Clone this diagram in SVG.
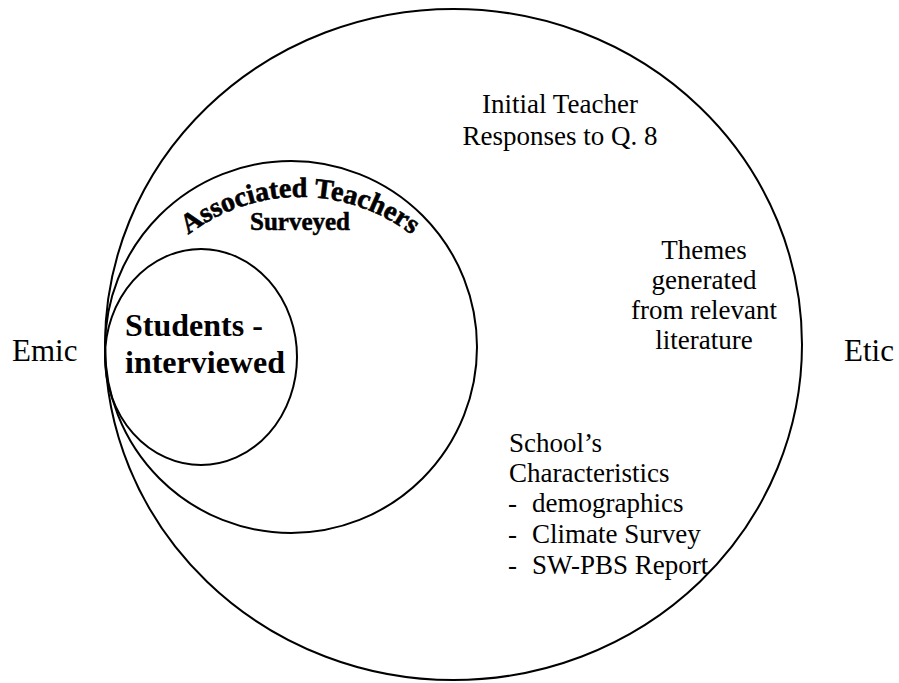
<svg xmlns="http://www.w3.org/2000/svg" width="899" height="683" viewBox="0 0 899 683">
<defs>
<style>
.ring{fill:none;stroke:#000;stroke-width:2}
.t{font-family:"Liberation Serif","Times New Roman",serif;fill:#000}
.n{font-size:27px}
.big{font-size:31px}
.stu{font-size:32px;font-weight:bold}
.arc{font-size:28px;font-weight:bold;stroke:#000;stroke-width:0.6}
</style>
<path id="arcPath" d="M 116 381 A 184 184 0 0 1 484 381"/>
</defs>
<rect width="899" height="683" fill="#fff"/>
<g id="etic-outer">
<ellipse class="ring" cx="453.5" cy="344.5" rx="348.5" ry="335.5"/>
<text class="t n" text-anchor="middle"><tspan x="560" y="113">Initial Teacher</tspan><tspan x="560" y="145">Responses to Q. 8</tspan></text>
<text class="t n" text-anchor="middle"><tspan x="704" y="259">Themes</tspan><tspan x="704" y="289">generated</tspan><tspan x="704" y="319">from relevant</tspan><tspan x="704" y="349">literature</tspan></text>
<text class="t n"><tspan x="509" y="452">School’s</tspan><tspan x="509" y="482">Characteristics</tspan></text>
<text class="t n"><tspan x="508" y="512">-</tspan><tspan x="532" y="512">demographics</tspan><tspan x="508" y="543">-</tspan><tspan x="532" y="543">Climate Survey</tspan><tspan x="508" y="574">-</tspan><tspan x="532" y="574">SW-PBS Report</tspan></text>
</g>
<g id="teachers-middle">
<circle class="ring" cx="291" cy="347" r="186"/>
<text class="t arc"><textPath href="#arcPath" startOffset="50%" text-anchor="middle">Associated Teachers</textPath></text>
<text class="t" x="300" y="230" text-anchor="middle" font-size="25" font-weight="bold" stroke="#000" stroke-width="0.5">Surveyed</text>
</g>
<g id="students-inner">
<ellipse class="ring" cx="201" cy="357" rx="96" ry="108"/>
<text class="t stu"><tspan x="125" y="336">Students -</tspan><tspan x="125" y="373">interviewed</tspan></text>
</g>
<g id="emic-label"><text class="t big" x="12" y="361">Emic</text></g>
<g id="etic-label"><text class="t big" x="844" y="361">Etic</text></g>
<g id="connectors"/>
</svg>
